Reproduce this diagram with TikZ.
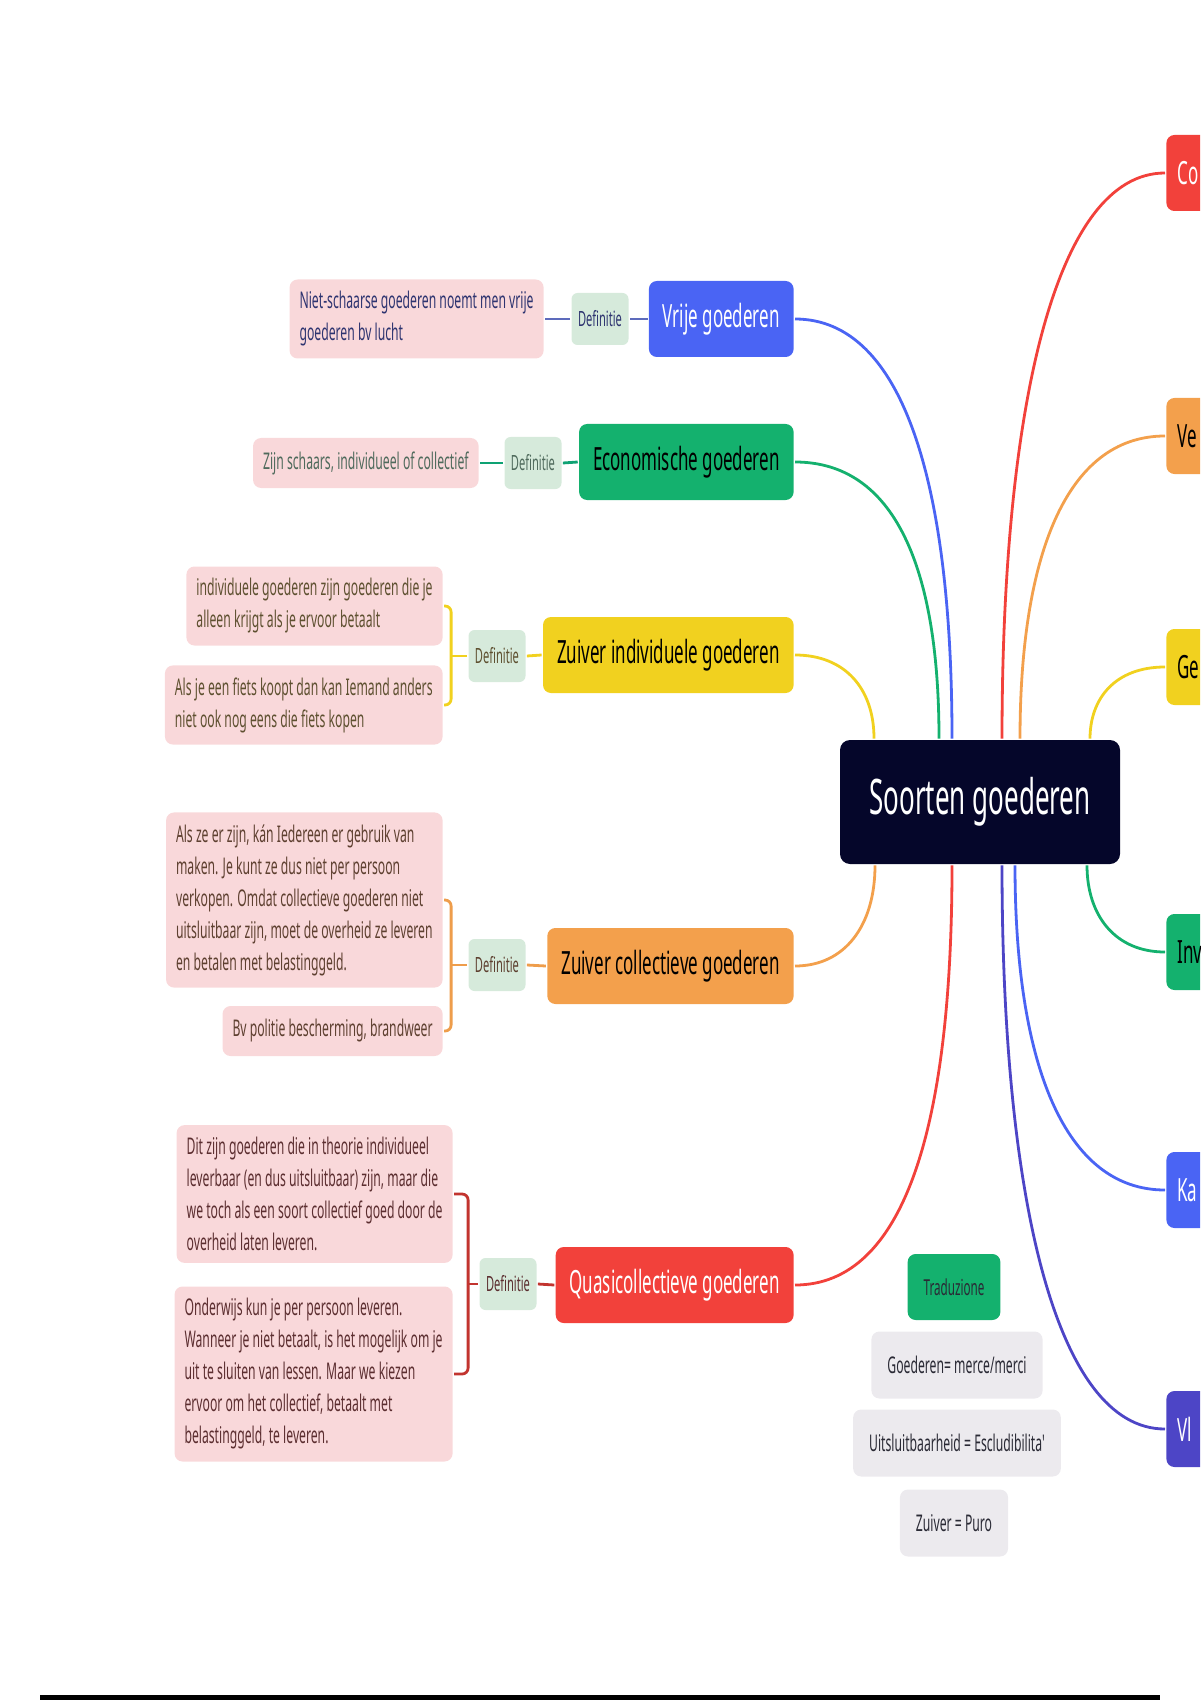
\documentclass[tikz,border=0pt]{standalone}
\usepackage{fontspec}
\newfontfamily\mapfont[FakeStretch=0.53]{Noto Sans}
\usetikzlibrary{positioning}

\definecolor{navy}{HTML}{05062A}
\definecolor{blauw}{HTML}{4A64F4}
\definecolor{groen}{HTML}{14B16E}
\definecolor{geel}{HTML}{F1D11F}
\definecolor{oranje}{HTML}{F3A04C}
\definecolor{rood}{HTML}{F2413B}
\definecolor{paars}{HTML}{4D45C6}
\definecolor{roze}{HTML}{F9D8DA}
\definecolor{defgroen}{HTML}{D6EADB}
\definecolor{grijs}{HTML}{ECEAEE}
\definecolor{tekst}{HTML}{2A2A35}
\definecolor{blauwtekst}{HTML}{2E3470}
\definecolor{groentekst}{HTML}{4F6A5C}
\definecolor{geeltekst}{HTML}{5E5030}
\definecolor{oranjetekst}{HTML}{5E4030}
\definecolor{roodtekst}{HTML}{5C2E30}

\begin{document}
\begin{tikzpicture}[x=0.5pt,y=-0.5pt,line width=1.4pt,
    hoofd/.style={rectangle,rounded corners=4pt,inner xsep=7pt,minimum height=38pt,
                  font=\mapfont\fontsize{16}{19}\selectfont},
    links/.style={hoofd,anchor=east},
    rechts/.style={hoofd,anchor=west,text width=90pt,align=left,inner xsep=5.5pt},
    definitie/.style={rectangle,rounded corners=3pt,fill=defgroen,inner xsep=3pt,
                  minimum width=28.5pt,minimum height=26pt,
                  font=\mapfont\fontsize{10.5}{12}\selectfont},
    noot/.style={rectangle,rounded corners=4pt,fill=roze,inner xsep=5pt,inner ysep=6pt,
                  anchor=east,align=left,font=\mapfont\fontsize{11.5}{16}\selectfont},
    vertaling/.style={rectangle,rounded corners=4pt,fill=grijs,inner xsep=8pt,
                  minimum height=33.5pt,text=tekst,font=\mapfont\fontsize{11.5}{14}\selectfont}]
  \path[use as bounding box,clip] (0,0) rectangle (1200,1700);

  % centre
  \node[fill=navy,rounded corners=5pt,minimum width=140pt,minimum height=62pt,text=white,
        font=\mapfont\fontsize{24.5}{28}\selectfont] (soorten) at (980,802) {Soorten goederen};

  % left branches
  \node[links,fill=blauw,text=white,minimum width=72pt]    (vrije) at (795,319)  {Vrije goederen};
  \node[links,fill=groen,text=black,minimum width=104.5pt] (econ)  at (795,462)  {Economische goederen};
  \node[links,fill=geel,text=black,minimum width=122.5pt]  (zind)  at (795,655)  {Zuiver individuele goederen};
  \node[links,fill=oranje,text=black,minimum width=122.5pt](zcoll) at (795,966)  {Zuiver collectieve goederen};
  \node[links,fill=rood,text=white,minimum width=117.5pt]  (quasi) at (795,1285) {Quasicollectieve goederen};

  \node[definitie,text=blauwtekst]  (def1) at (600,319)  {Definitie};
  \node[definitie,text=groentekst]  (def2) at (533,463)  {Definitie};
  \node[definitie,text=geeltekst]   (def3) at (497,656)  {Definitie};
  \node[definitie,text=oranjetekst] (def4) at (497,965)  {Definitie};
  \node[definitie,text=roodtekst]   (def5) at (508,1284) {Definitie};

  \node[noot,text=blauwtekst,minimum width=124.5pt] (noot1) at (545,319)
    {Niet-schaarse goederen noemt men vrije\\goederen bv lucht};
  \node[noot,text=groentekst,minimum height=25pt] (noot2) at (480,463)
    {Zijn schaars, individueel of collectief};
  \node[noot,text=geeltekst,minimum width=126pt] (noot3a) at (444,606)
    {individuele goederen zijn goederen die je\\alleen krijgt als je ervoor betaalt};
  \node[noot,text=geeltekst,minimum width=136pt] (noot3b) at (444,705)
    {Als je een fiets koopt dan kan Iemand anders\\niet ook nog eens die fiets kopen};
  \node[noot,text=oranjetekst,minimum width=136pt] (noot4a) at (444,900)
    {Als ze er zijn, kán Iedereen er gebruik van\\maken. Je kunt ze dus niet per persoon\\verkopen. Omdat collectieve goederen niet\\uitsluitbaar zijn, moet de overheid ze leveren\\en betalen met belastinggeld.};
  \node[noot,text=oranjetekst,minimum height=25pt] (noot4b) at (444,1031)
    {Bv politie bescherming, brandweer};
  \node[noot,text=roodtekst,minimum width=138pt] (noot5a) at (454,1194)
    {Dit zijn goederen die in theorie individueel\\leverbaar (en dus uitsluitbaar) zijn, maar die\\we toch als een soort collectief goed door de\\overheid laten leveren.};
  \node[noot,text=roodtekst,minimum width=136.5pt] (noot5b) at (454,1374)
    {Onderwijs kun je per persoon leveren.\\Wanneer je niet betaalt, is het mogelijk om je\\uit te sluiten van lessen. Maar we kiezen\\ervoor om het collectief, betaalt met\\belastinggeld, te leveren.};

  % right branches (cut off by the page edge)
  \node[rechts,fill=rood,text=white]   (co)  at (1165,173)  {Co};
  \node[rechts,fill=oranje,text=black] (ve)  at (1165,436)  {Ve};
  \node[rechts,fill=geel,text=black]   (ge)  at (1165,667)  {Ge};
  \node[rechts,fill=groen,text=black]  (inv) at (1165,952)  {Inv};
  \node[rechts,fill=blauw,text=white]  (ka)  at (1165,1190) {Ka};
  \node[rechts,fill=paars,text=white]  (vl)  at (1165,1429) {Vl};

  % translations
  \node[vertaling,fill=groen,minimum width=41.5pt,minimum height=33pt,
        font=\mapfont\fontsize{11}{13}\selectfont] (trad) at (954,1287) {Traduzione};
  \node[vertaling,minimum width=81.5pt]  (merci) at (957,1365) {Goederen= merce/merci};
  \node[vertaling,minimum width=99.5pt]  (uits)  at (957,1443) {Uitsluitbaarheid = Escludibilita'};
  \node[vertaling,minimum width=49pt]    (puro)  at (954,1523) {Zuiver = Puro};

  % curves from the centre
  \draw[blauw]  ([xshift=-14pt]soorten.north) .. controls +(0,-250) and +(110,0) .. (vrije.east);
  \draw[groen]  ([xshift=-20.5pt]soorten.north) .. controls +(0,-170) and +(100,0) .. (econ.east);
  \draw[geel]   ([xshift=-53pt]soorten.north) .. controls +(0,-50) and +(50,0) .. (zind.east);
  \draw[oranje] ([xshift=-52.5pt]soorten.south) .. controls +(0,60) and +(50,0) .. (zcoll.east);
  \draw[rood]   ([xshift=-14pt]soorten.south) .. controls +(0,260) and +(110,0) .. (quasi.east);
  \draw[rood]   ([xshift=11pt]soorten.north) .. controls +(0,-330) and +(-110,0) .. (co.west);
  \draw[oranje] ([xshift=20pt]soorten.north) .. controls +(0,-180) and +(-100,0) .. (ve.west);
  \draw[geel]   ([xshift=55pt]soorten.north) .. controls +(0,-40) and +(-50,0) .. (ge.west);
  \draw[groen]  ([xshift=53.5pt]soorten.south) .. controls +(0,50) and +(-50,0) .. (inv.west);
  \draw[blauw]  ([xshift=17.5pt]soorten.south) .. controls +(0,200) and +(-100,0) .. (ka.west);
  \draw[paars]  ([xshift=11pt]soorten.south) .. controls +(0,330) and +(-110,0) .. (vl.west);

  % definitions
  \draw[blauw!70!black!80] (vrije.west) -- (def1.east);
  \draw[blauw!70!black!80] (def1.west) -- (noot1.east);
  \draw[groen!70!teal] (econ.west) -- (def2.east);
  \draw[groen!70!teal] (def2.west) -- (noot2.east);
  \draw[geel] (zind.west) -- (def3.east);
  \draw[geel,rounded corners=3pt] (noot3a.east) -| ([xshift=-8pt]def3.west) |- (noot3b.east);
  \draw[geel] (def3.west) -- ++(-16,0);
  \draw[oranje!90!brown] (zcoll.west) -- (def4.east);
  \draw[oranje!90!brown,rounded corners=3pt] (noot4a.east) -| ([xshift=-8pt]def4.west) |- (noot4b.east);
  \draw[oranje!90!brown] (def4.west) -- ++(-16,0);
  \draw[rood!80!black] (quasi.west) -- (def5.east);
  \draw[rood!80!black,rounded corners=3pt] (noot5a.east) -| ([xshift=-5pt]def5.west) |- (noot5b.east);
  \draw[rood!80!black] (def5.west) -- ++(-10,0);

  \draw[line width=2.5pt] (40,1697) -- (1160,1697);
\end{tikzpicture}
\end{document}
